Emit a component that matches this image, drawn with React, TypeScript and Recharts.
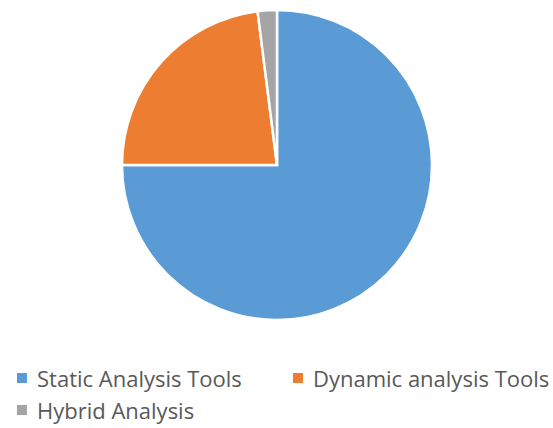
import { PieChart, Pie, Cell, Legend } from "recharts"

const categories = ["Static Analysis Tools", "Dynamic analysis Tools", "Hybrid Analysis"]
const shares = [75, 23, 2]
const colors = ["#5B9BD5", "#ED7D31", "#A5A5A5"]

const data = categories.map((name, i) => ({ name, value: shares[i] }))

// legend laid out like the original: two items on the first row, one below
const legendSpots = [
  { left: 17, top: 363 },
  { left: 293, top: 363 },
  { left: 17, top: 395 },
]

function renderLegend() {
  return (
    <div style={{ position: "relative", width: 553, height: 66 }}>
      {data.map((d, i) => (
        <div
          key={d.name}
          style={{
            position: "absolute",
            left: legendSpots[i].left,
            top: legendSpots[i].top - 362,
            height: 30,
            lineHeight: "30px",
            display: "flex",
            alignItems: "center",
            whiteSpace: "nowrap",
            fontFamily: "'Open Sans', sans-serif",
            fontSize: 22,
            color: "#595959",
          }}
        >
          <span style={{ width: 10, height: 10, background: colors[i], marginRight: 10 }} />
          {d.name}
        </div>
      ))}
    </div>
  )
}

export default function App() {
  return (
    <div style={{ position: "absolute", left: 0, top: 0, background: "#fff" }}>
      <PieChart width={553} height={428} margin={{ top: 0, right: 0, bottom: 0, left: 0 }}>
        <Pie
          data={data}
          dataKey="value"
          nameKey="name"
          cx={277}
          cy={165}
          outerRadius={155}
          startAngle={90}
          endAngle={-270}
          stroke="#fff"
          strokeWidth={2.5}
          isAnimationActive={false}
        >
          {data.map((d, i) => (
            <Cell key={d.name} fill={colors[i]} />
          ))}
        </Pie>
        <Legend
          content={renderLegend}
          verticalAlign="bottom"
          wrapperStyle={{ left: 0, top: 362, width: 553 }}
        />
      </PieChart>
    </div>
  )
}
